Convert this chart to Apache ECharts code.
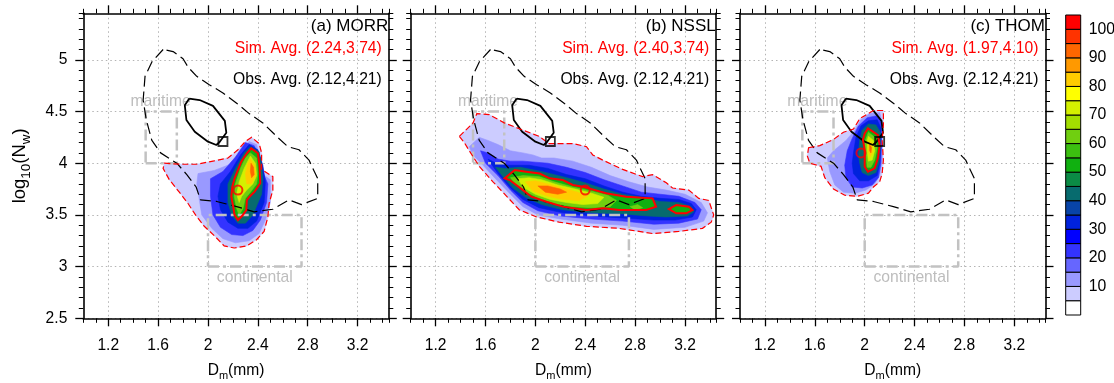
<!DOCTYPE html>
<html>
<head>
<meta charset="utf-8">
<script src="https://cdn.jsdelivr.net/npm/echarts@6/dist/echarts.min.js"></script>
<style>
html,body{margin:0;padding:0;background:#fff;}
#chart{width:1114px;height:383px;}
</style>
</head>
<body>
<div id="chart"></div>
<script>
// Axis ranges and tick labels
const xRange = [1.0, 3.45];
const yRange = [2.5, 5.45];
const xTicks = [1.2, 1.6, 2.0, 2.4, 2.8, 3.2];
const yTicks = [2.5, 3, 3.5, 4, 4.5, 5];

// Frequency levels (lower bound of each colour band) and their colours
const colorLevels = [0, 5, 10, 15, 20, 25, 30, 35, 40, 45, 50, 55, 60, 65, 70, 75, 80, 85, 90, 95, 100];
const colorBand = ['#ffffff', '#ccccff', '#9999ff', '#6666ff', '#3333ff', '#0000ff', '#0022dd', '#0844a8',
  '#076b6e', '#0b8b45', '#10b010', '#3cbf10', '#70cf10', '#a3de00', '#d4f000', '#ffff00',
  '#ffcc00', '#ff9900', '#ff6600', '#ff3300', '#ff0000'];
const colorbarLabels = [10, 20, 30, 40, 50, 60, 70, 80, 90, 100];

const panelTitles = ['(a) MORR', '(b) NSSL', '(c) THOM'];
const simAvg = [[2.24, 3.74], [2.40, 3.74], [1.97, 4.10]];
const obsAvg = [2.12, 4.21];

// Reference regimes: [[Dm0, logNw0], [Dm1, logNw1]]
const maritimeBox = [[1.5, 4.0], [1.75, 4.5]];
const continentalBox = [[2.0, 3.0], [2.75, 3.5]];
const maritimeLabel = [1.62, 4.60];
const continentalLabel = [2.375, 2.89];

// Observed frequency contours (outer = 5, core = 50)
const obsOuter = [[1.64,5.10],[1.55,4.98],[1.495,4.84],[1.48,4.61],[1.505,4.42],[1.55,4.22],[1.62,4.10],[1.75,4.00],
  [1.83,3.89],[1.905,3.77],[1.94,3.645],[2.07,3.63],[2.23,3.58],[2.37,3.53],[2.52,3.555],[2.65,3.645],[2.75,3.60],
  [2.88,3.66],[2.88,3.85],[2.81,4.03],[2.73,4.13],[2.64,4.16],[2.55,4.26],[2.44,4.39],[2.33,4.48],[2.23,4.58],
  [2.12,4.68],[2.01,4.76],[1.91,4.84],[1.84,4.93],[1.80,5.01],[1.72,5.08],[1.64,5.10]];
const obsCore = [[1.85,4.625],[1.814,4.56],[1.827,4.418],[1.894,4.305],[2.0,4.208],[2.067,4.176],[2.093,4.205],
  [2.147,4.295],[2.135,4.41],[2.04,4.555],[1.933,4.611],[1.85,4.625]];

// Simulated frequency contours: [level, ring of [Dm, log10(Nw)]]
const morrRings = [
  [5, [[1.65,4.00],[1.78,3.99],[1.91,3.99],[2.04,4.02],[2.16,4.05],[2.24,4.13],[2.30,4.21],[2.35,4.25],[2.41,4.19],
       [2.43,4.10],[2.43,3.94],[2.52,3.87],[2.52,3.74],[2.49,3.61],[2.48,3.48],[2.45,3.34],[2.39,3.26],[2.31,3.20],
       [2.21,3.18],[2.13,3.20],[2.05,3.30],[1.97,3.39],[1.90,3.50],[1.84,3.61],[1.77,3.72],[1.69,3.84],[1.64,3.95]]],
  [10, [[1.92,3.90],[2.05,3.93],[2.18,3.99],[2.26,4.11],[2.33,4.21],[2.39,4.18],[2.41,4.08],[2.42,3.91],[2.50,3.84],
        [2.50,3.62],[2.46,3.45],[2.41,3.32],[2.33,3.25],[2.22,3.23],[2.12,3.27],[2.03,3.37],[1.95,3.50],[1.93,3.65],[1.91,3.80]]],
  [20, [[2.02,3.85],[2.12,3.92],[2.22,4.06],[2.30,4.20],[2.37,4.17],[2.42,4.05],[2.45,3.88],[2.48,3.80],[2.47,3.62],
        [2.42,3.45],[2.36,3.35],[2.28,3.30],[2.19,3.31],[2.10,3.38],[2.04,3.50],[2.02,3.68]]],
  [30, [[2.10,3.80],[2.18,3.92],[2.26,4.08],[2.33,4.18],[2.40,4.13],[2.44,3.98],[2.46,3.82],[2.45,3.62],[2.39,3.44],
        [2.32,3.37],[2.24,3.37],[2.16,3.43],[2.10,3.55],[2.08,3.68]]],
  [40, [[2.16,3.80],[2.22,3.95],[2.29,4.10],[2.34,4.16],[2.41,4.11],[2.43,3.98],[2.44,3.85],[2.43,3.70],[2.36,3.50],
        [2.30,3.42],[2.24,3.42],[2.19,3.50],[2.16,3.62]]],
  [50, [[2.347,4.144],[2.40,4.096],[2.413,3.983],[2.419,3.806],[2.374,3.725],[2.333,3.676],[2.312,3.644],[2.307,3.547],
        [2.275,3.492],[2.24,3.45],[2.213,3.50],[2.20,3.596],[2.187,3.676],[2.195,3.773],[2.213,3.854],[2.267,4.015],[2.312,4.096]]],
  [60, [[2.34,4.10],[2.39,4.05],[2.40,3.90],[2.39,3.80],[2.34,3.72],[2.30,3.66],[2.28,3.56],[2.25,3.50],[2.23,3.56],
        [2.21,3.68],[2.22,3.80],[2.26,3.95],[2.30,4.05]]],
  [70, [[2.34,4.07],[2.38,4.00],[2.39,3.88],[2.36,3.80],[2.31,3.74],[2.27,3.68],[2.25,3.62],[2.23,3.70],[2.25,3.82],[2.29,3.95]]],
  [80, [[2.34,4.04],[2.375,3.98],[2.38,3.88],[2.35,3.80],[2.31,3.80],[2.30,3.90],[2.32,4.00]]],
  [90, [[2.345,4.00],[2.365,3.96],[2.37,3.89],[2.35,3.86],[2.34,3.92]]]
];
const nsslRings = [
  [5, [[1.39,4.26],[1.45,4.33],[1.50,4.39],[1.53,4.48],[1.63,4.47],[1.75,4.39],[1.90,4.32],[2.03,4.26],[2.11,4.19],
       [2.20,4.19],[2.30,4.19],[2.41,4.16],[2.46,4.08],[2.54,4.03],[2.70,3.94],[2.86,3.87],[2.94,3.89],[3.05,3.81],
       [3.10,3.76],[3.23,3.74],[3.31,3.66],[3.39,3.64],[3.43,3.50],[3.41,3.43],[3.34,3.37],[3.15,3.34],[2.94,3.32],
       [2.67,3.37],[2.41,3.39],[2.19,3.43],[2.01,3.48],[1.87,3.55],[1.77,3.68],[1.66,3.82],[1.55,3.97],[1.47,4.12],[1.43,4.20]]],
  [10, [[1.47,4.16],[1.55,4.25],[1.62,4.22],[1.70,4.18],[1.80,4.12],[1.90,4.10],[1.98,4.08],[2.05,4.05],[2.15,4.05],
        [2.30,4.02],[2.45,3.96],[2.60,3.88],[2.75,3.82],[2.90,3.77],[3.05,3.74],[3.20,3.70],[3.33,3.62],[3.38,3.52],
        [3.35,3.44],[3.20,3.38],[2.95,3.36],[2.70,3.40],[2.45,3.42],[2.20,3.46],[2.02,3.50],[1.90,3.58],[1.80,3.70],
        [1.68,3.85],[1.58,3.98],[1.50,4.08]]],
  [20, [[1.56,4.12],[1.62,4.10],[1.70,4.04],[1.80,4.02],[1.90,4.02],[2.00,4.01],[2.10,4.00],[2.25,3.96],[2.40,3.91],
        [2.55,3.84],[2.70,3.78],[2.85,3.72],[3.00,3.70],[3.15,3.68],[3.28,3.62],[3.33,3.55],[3.30,3.46],[3.15,3.42],
        [2.95,3.41],[2.70,3.44],[2.45,3.46],[2.20,3.49],[2.02,3.54],[1.90,3.62],[1.80,3.74],[1.70,3.88],[1.60,4.00]]],
  [30, [[1.62,4.04],[1.70,3.99],[1.80,3.98],[1.95,3.98],[2.10,3.95],[2.25,3.89],[2.40,3.85],[2.55,3.78],[2.70,3.72],
        [2.85,3.68],[3.00,3.66],[3.15,3.65],[3.25,3.61],[3.29,3.55],[3.26,3.48],[3.12,3.45],[2.95,3.45],[2.70,3.47],
        [2.45,3.49],[2.22,3.52],[2.03,3.57],[1.90,3.65],[1.80,3.76],[1.70,3.90]]],
  [40, [[1.68,3.96],[1.76,3.95],[1.88,3.96],[2.05,3.92],[2.25,3.86],[2.40,3.81],[2.55,3.75],[2.70,3.70],[2.85,3.67],
        [3.00,3.63],[3.15,3.62],[3.25,3.58],[3.27,3.53],[3.22,3.49],[3.05,3.48],[2.90,3.49],[2.70,3.51],[2.45,3.52],
        [2.22,3.55],[2.05,3.60],[1.92,3.67],[1.82,3.76],[1.74,3.87]]],
  [50, [[1.754,3.854],[1.834,3.934],[1.927,3.918],[2.034,3.90],[2.114,3.854],[2.22,3.837],[2.30,3.79],[2.381,3.773],
        [2.567,3.709],[2.727,3.676],[2.94,3.66],[2.968,3.579],[2.888,3.547],[2.674,3.547],[2.541,3.564],[2.41,3.547],
        [2.22,3.58],[2.088,3.628],[1.968,3.676],[1.90,3.74],[1.794,3.837]]],
  [50, [[3.07,3.557],[3.13,3.596],[3.23,3.58],[3.26,3.547],[3.21,3.515],[3.13,3.515]]],
  [60, [[1.80,3.86],[1.90,3.88],[2.03,3.87],[2.15,3.82],[2.30,3.77],[2.45,3.73],[2.58,3.69],[2.65,3.64],[2.60,3.58],
        [2.45,3.57],[2.30,3.58],[2.15,3.61],[2.03,3.66],[1.93,3.72],[1.84,3.80]]],
  [60, [[2.76,3.58],[2.82,3.60],[2.86,3.57],[2.80,3.55]]],
  [70, [[1.86,3.85],[1.95,3.86],[2.05,3.84],[2.18,3.79],[2.32,3.75],[2.45,3.71],[2.55,3.67],[2.50,3.61],[2.38,3.60],
        [2.25,3.62],[2.12,3.65],[2.00,3.70],[1.90,3.77]]],
  [80, [[1.92,3.82],[2.00,3.83],[2.10,3.80],[2.22,3.76],[2.34,3.72],[2.42,3.68],[2.35,3.64],[2.22,3.65],[2.10,3.68],[1.98,3.73]]],
  [90, [[2.02,3.78],[2.10,3.78],[2.20,3.75],[2.25,3.72],[2.18,3.70],[2.08,3.72]]]
];
const thomRings = [
  [5, [[1.55,4.15],[1.64,4.17],[1.75,4.23],[1.83,4.30],[1.91,4.33],[1.96,4.43],[2.00,4.46],[2.07,4.51],[2.15,4.51],
       [2.15,4.37],[2.14,4.22],[2.15,4.03],[2.14,3.90],[2.12,3.82],[2.07,3.77],[2.03,3.71],[1.94,3.68],[1.84,3.69],
       [1.75,3.75],[1.68,3.86],[1.65,3.97],[1.56,4.00],[1.54,4.07]]],
  [10, [[1.75,4.12],[1.85,4.22],[1.92,4.32],[1.97,4.42],[2.04,4.48],[2.12,4.49],[2.14,4.40],[2.14,4.20],[2.14,4.02],
        [2.12,3.88],[2.08,3.80],[2.01,3.74],[1.92,3.71],[1.83,3.72],[1.76,3.79],[1.72,3.92],[1.70,4.05]]],
  [20, [[1.86,4.12],[1.90,4.24],[1.95,4.36],[2.02,4.44],[2.10,4.46],[2.135,4.40],[2.135,4.20],[2.13,4.00],[2.11,3.86],
        [2.06,3.79],[1.98,3.76],[1.90,3.77],[1.85,3.86],[1.84,3.98]]],
  [30, [[1.91,4.10],[1.93,4.25],[1.97,4.36],[2.03,4.41],[2.10,4.42],[2.13,4.34],[2.13,4.15],[2.12,4.00],[2.10,3.88],
        [2.03,3.83],[1.96,3.83],[1.91,3.90],[1.90,4.00]]],
  [40, [[1.95,4.08],[1.96,4.22],[1.98,4.32],[2.03,4.38],[2.09,4.37],[2.125,4.30],[2.125,4.15],[2.115,4.00],[2.09,3.91],
        [2.03,3.88],[1.98,3.91],[1.96,4.00]]],
  [50, [[2.026,4.337],[2.106,4.273],[2.12,4.176],[2.106,4.047],[2.08,3.95],[2.026,3.918],[2.0,3.966],[2.0,4.128],
        [1.986,4.224],[2.0,4.289]]],
  [60, [[2.03,4.30],[2.08,4.25],[2.10,4.15],[2.08,4.03],[2.05,3.96],[2.02,3.96],[2.01,4.08],[2.00,4.20]]],
  [70, [[2.03,4.26],[2.07,4.22],[2.08,4.12],[2.06,4.03],[2.03,4.02],[2.02,4.12],[2.02,4.22]]],
  [80, [[2.035,4.22],[2.06,4.19],[2.065,4.11],[2.045,4.06],[2.03,4.12]]],
  [90, [[2.04,4.18],[2.055,4.15],[2.05,4.10],[2.04,4.12]]]
];
const panelRings = [morrRings, nsslRings, thomRings];

// ---- layout ----
const FONT = '"Liberation Sans", Arial, Helvetica, sans-serif';
const gridLeft = [83.3, 410.7, 740];
const GRID_W = 305.5, GRID_TOP = 13.3, GRID_H = 305;

function bandColor(level) {
  return colorBand[colorLevels.indexOf(level)];
}

const xNameRich = {
  n: { fontSize: 15.6, fontFamily: FONT, color: '#000', lineHeight: 22 },
  s: { fontSize: 11, fontFamily: FONT, color: '#000', lineHeight: 11, verticalAlign: 'bottom' }
};
const yNameRich = {
  n: { fontSize: 18.5, fontFamily: FONT, color: '#000', lineHeight: 26 },
  s: { fontSize: 13.5, fontFamily: FONT, color: '#000', lineHeight: 13, verticalAlign: 'bottom' }
};

const grids = [];
const xAxes = [];
const yAxes = [];
const series = [];
const lineCol = '#000';

for (let g = 0; g < 3; g++) {
  grids.push({ left: gridLeft[g], top: GRID_TOP, width: GRID_W, height: GRID_H, outerBoundsMode: 'none', containLabel: false });
  ['bottom', 'top'].forEach((pos) => {
    const main = pos === 'bottom';
    xAxes.push({
      gridIndex: g, type: 'value', min: xRange[0], max: xRange[1], position: pos,
      name: main ? '{n|D}{s|m}{n|(mm)}' : '', nameLocation: 'middle', nameGap: 41, nameMoveOverlap: false,
      nameTextStyle: { rich: xNameRich },
      axisLine: { show: true, onZero: false, lineStyle: { color: lineCol, width: 1.6 } },
      axisTick: { show: true, inside: false, length: 8, customValues: xTicks, lineStyle: { color: lineCol, width: 1.3 } },
      axisLabel: { show: main, customValues: xTicks, margin: 19, color: '#000', fontSize: 15.6, fontFamily: FONT,
        formatter: (v) => String(+(+v).toFixed(1)) },
      splitLine: { show: main, lineStyle: { color: '#b4b4b4', width: 1, type: [1.5, 3] } }
    });
    xAxes.push({
      gridIndex: g, type: 'value', min: xRange[0], max: xRange[1], interval: 0.1, position: pos,
      axisLine: { show: false, onZero: false },
      axisTick: { show: true, inside: false, length: 4.5, lineStyle: { color: lineCol, width: 1 } },
      axisLabel: { show: false }, splitLine: { show: false }
    });
  });
  ['left', 'right'].forEach((pos) => {
    const main = pos === 'left';
    yAxes.push({
      gridIndex: g, type: 'value', min: yRange[0], max: yRange[1], position: pos,
      name: (main && g === 0) ? '{n|log}{s|10}{n|(N}{s|w}{n|)}' : '', nameLocation: 'middle', nameRotate: 90,
      nameGap: 50, nameMoveOverlap: false, nameTextStyle: { rich: yNameRich },
      axisLine: { show: true, onZero: false, lineStyle: { color: lineCol, width: 1.6 } },
      axisTick: { show: true, inside: false, length: 8, customValues: yTicks, lineStyle: { color: lineCol, width: 1.3 } },
      axisLabel: { show: main && g === 0, customValues: yTicks, margin: 16, color: '#000', fontSize: 15.6, fontFamily: FONT,
        formatter: (v) => String(+(+v).toFixed(1)) },
      splitLine: { show: main, lineStyle: { color: '#b4b4b4', width: 1, type: [1.5, 3] } }
    });
    yAxes.push({
      gridIndex: g, type: 'value', min: yRange[0], max: yRange[1], interval: 0.1, position: pos,
      axisLine: { show: false, onZero: false },
      axisTick: { show: true, inside: false, length: 4.5, lineStyle: { color: lineCol, width: 1 } },
      axisLabel: { show: false }, splitLine: { show: false }
    });
  });

  const ax = { xAxisIndex: 4 * g, yAxisIndex: 4 * g };
  const rings = panelRings[g];

  // filled frequency bands
  series.push(Object.assign({
    type: 'custom', clip: true, silent: true, z: 2,
    data: rings.map((r) => r[1][0]),
    renderItem: (params, api) => {
      const ring = rings[params.dataIndex];
      const c = bandColor(ring[0]);
      return { type: 'polygon', shape: { points: ring[1].map((p) => api.coord(p)) },
        style: { fill: c, stroke: c, lineWidth: 0.6 } };
    }
  }, ax));

  // regime boxes
  [maritimeBox, continentalBox].forEach((b) => {
    series.push(Object.assign({
      type: 'line', silent: true, symbol: 'none', z: 3,
      data: [[b[0][0], b[0][1]], [b[1][0], b[0][1]], [b[1][0], b[1][1]], [b[0][0], b[1][1]], [b[0][0], b[0][1]]],
      lineStyle: { color: '#c2c2c2', width: 2.5, type: [11, 4, 3, 4] }
    }, ax));
  });
  [['maritime', maritimeLabel], ['continental', continentalLabel]].forEach(([txt, pos]) => {
    series.push(Object.assign({
      type: 'scatter', silent: true, symbolSize: 2, z: 4,
      itemStyle: { color: 'rgba(255,255,255,0)' },
      data: [pos],
      label: { show: true, position: 'inside', formatter: txt, color: '#bdbdbd', fontSize: 15.7, fontFamily: FONT, opacity: 1 }
    }, ax));
  });

  // observed contours
  series.push(Object.assign({
    type: 'line', silent: true, symbol: 'none', z: 5, data: obsOuter,
    lineStyle: { color: '#000', width: 1.2, type: [11, 5] }
  }, ax));
  series.push(Object.assign({
    type: 'line', silent: true, symbol: 'none', z: 5, data: obsCore,
    lineStyle: { color: '#000', width: 1.8 }
  }, ax));

  // simulated contour outlines
  const outlines = rings.filter((r) => r[0] === 5 || r[0] === 50);
  series.push(Object.assign({
    type: 'custom', clip: true, silent: true, z: 6,
    data: outlines.map((r) => r[1][0]),
    renderItem: (params, api) => {
      const ring = outlines[params.dataIndex];
      const dashed = ring[0] === 5;
      return { type: 'polygon', shape: { points: ring[1].map((p) => api.coord(p)) },
        style: { fill: 'none', stroke: '#ff0000', lineWidth: dashed ? 1.2 : 2, lineDash: dashed ? [6, 3] : null } };
    }
  }, ax));

  // averages
  series.push(Object.assign({
    type: 'scatter', silent: true, z: 7, symbol: 'rect', symbolSize: 9, data: [obsAvg],
    itemStyle: { color: 'rgba(0,0,0,0)', borderColor: '#000', borderWidth: 1.8 }
  }, ax));
  series.push(Object.assign({
    type: 'scatter', silent: true, z: 7, symbol: 'circle', symbolSize: 9, data: [simAvg[g]],
    itemStyle: { color: 'rgba(0,0,0,0)', borderColor: '#ff0000', borderWidth: 2 }
  }, ax));
}

// colour bar
grids.push({ left: 1065.7, top: 15, width: 15, height: 300, outerBoundsMode: 'none', containLabel: false });
xAxes.push({ gridIndex: 3, type: 'value', min: 0, max: 1, show: false });
yAxes.push({
  gridIndex: 3, type: 'value', min: 0, max: 105, position: 'right',
  axisLine: { show: false }, axisTick: { show: false }, splitLine: { show: false },
  axisLabel: { customValues: colorbarLabels, margin: 8, color: '#000', fontSize: 15.8, fontFamily: FONT }
});
series.push({
  type: 'custom', xAxisIndex: 12, yAxisIndex: 12, silent: true,
  data: colorLevels.map((lv) => [0.5, lv]),
  renderItem: (params, api) => {
    const i = params.dataIndex;
    const lo = colorLevels[i];
    const p0 = api.coord([0, lo + 5]);
    const p1 = api.coord([1, lo]);
    return { type: 'rect', shape: { x: p0[0], y: p0[1], width: p1[0] - p0[0], height: p1[1] - p0[1] },
      style: { fill: colorBand[i], stroke: '#000', lineWidth: 1 } };
  }
});

// panel annotations
const graphics = [];
const panelRight = gridLeft.map((l) => l + GRID_W);
for (let g = 0; g < 3; g++) {
  const r = panelRight[g];
  const fmt = (p) => '(' + p[0].toFixed(2) + ',' + p[1].toFixed(2) + ')';
  [[panelTitles[g], r - 0.5, 26, 17, '#000'],
   ['Sim. Avg. ' + fmt(simAvg[g]), r - 7, 49, 15.7, '#ff0000'],
   ['Obs. Avg. ' + fmt(obsAvg), r - 7, 80, 15.7, '#000']].forEach(([t, x, y, fs, c]) => {
    graphics.push({ type: 'text', x: x, y: y, z: 100,
      style: { text: t, fill: c, font: fs + 'px ' + FONT, textAlign: 'right', align: 'right',
        textVerticalAlign: 'middle', verticalAlign: 'middle' } });
  });
}

const chart = echarts.init(document.getElementById('chart'), null, { renderer: 'canvas' });
chart.setOption({
  animation: false,
  backgroundColor: '#fff',
  grid: grids,
  xAxis: xAxes,
  yAxis: yAxes,
  series: series,
  graphic: graphics
});
</script>
</body>
</html>
